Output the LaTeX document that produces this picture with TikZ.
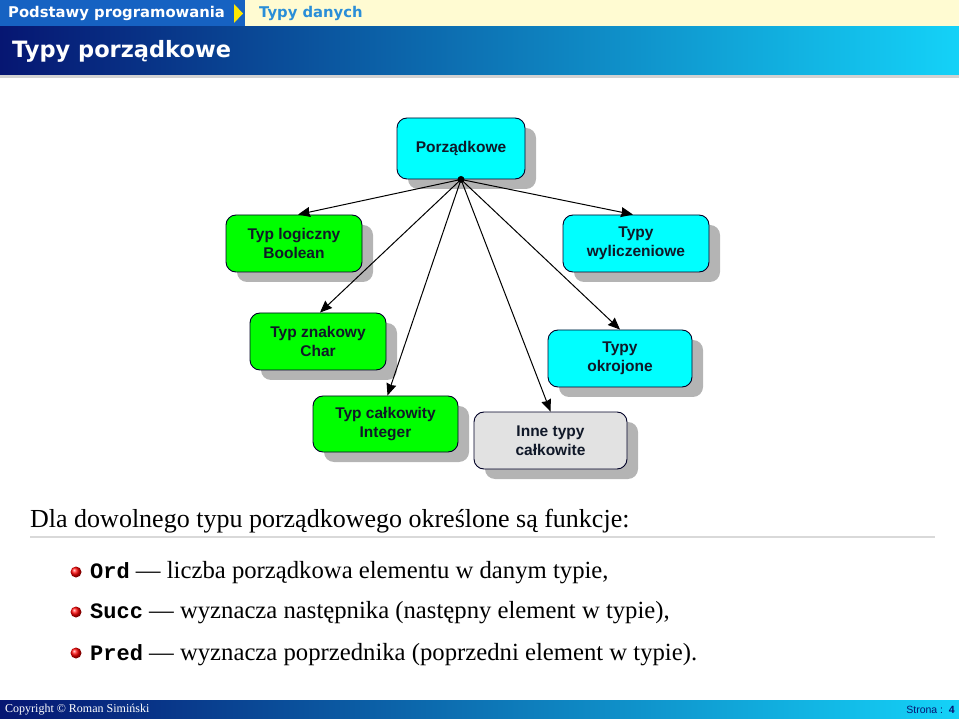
\documentclass[tikz,border=0pt]{standalone}
\usepackage{fontspec}
\setmainfont{Liberation Serif}
\setmonofont{Liberation Mono}
\newfontfamily\hdrf{DejaVu Sans}
\newfontfamily\boxf{Liberation Sans}
\usetikzlibrary{shadows,arrows.meta}
\definecolor{navy}{HTML}{061672}
\definecolor{midblue}{HTML}{1A55B8}
\definecolor{lcyan}{HTML}{14D2F8}
\definecolor{topblue}{HTML}{1662C2}
\definecolor{topyel}{HTML}{FFFBD2}
\definecolor{typblue}{HTML}{2A8ED8}
\definecolor{boxcyan}{HTML}{00FFFF}
\definecolor{boxgreen}{HTML}{00FF00}
\definecolor{boxgray}{HTML}{E2E2E2}
\definecolor{shadowgray}{HTML}{B4B4B4}
\definecolor{boxtext}{HTML}{101828}
\tikzset{
  tbox/.style={draw=black!85!blue, line width=0.9pt, rounded corners=10pt, align=center,
    inner sep=2pt, text=boxtext, font=\boxf\bfseries\fontsize{15.5}{19}\selectfont,
    drop shadow={shadow xshift=11pt, shadow yshift=-10pt, fill=shadowgray, opacity=1}},
  arr/.style={-{Stealth[length=12pt,width=10pt,inset=1pt]}, line width=1pt},
  bul/.style={circle, inner sep=0pt, minimum size=11pt, ball color=red},
  itm/.style={anchor=west, inner sep=0pt, font=\fontsize{24.7}{29}\selectfont}
}
\newcommand{\fn}[1]{{\ttfamily\bfseries\fontsize{22}{26}\selectfont #1}}
\begin{document}
\begin{tikzpicture}[x=1pt,y=-1pt]
\useasboundingbox (0,0) rectangle (959,719);
% header
\fill[topblue] (0,0) rectangle (245,27);
\fill[topyel] (245,0) rectangle (959,27);
\fill[yellow!90!orange] (234,4) -- (243,13.5) -- (234,23) -- cycle;
\node[anchor=west, text=white, font=\hdrf\bfseries\fontsize{14.8}{16}\selectfont, inner sep=0pt] (hdr) at (8,13.5) {Podstawy programowania};
\node[anchor=west, text=typblue, font=\hdrf\bfseries\fontsize{14.8}{16}\selectfont, inner sep=0pt] (sub) at (259,13.5) {Typy danych};
% title bar
\fill[gray!35] (0,75) rectangle (959,78);
\shade[left color=navy, middle color=midblue, right color=lcyan] (0,27) rectangle (959,75);
\node[anchor=west, text=white, font=\hdrf\bfseries\fontsize{22.5}{26}\selectfont, inner sep=0pt] (title) at (12,51) {Typy porządkowe};
% boxes
\node[tbox, fill=boxcyan, minimum width=128pt, minimum height=61pt] (P) at (461,148.5) {Porządkowe};
\node[tbox, fill=boxgreen, minimum width=136pt, minimum height=57pt] (B) at (294,243.5) {Typ logiczny\\Boolean};
\node[tbox, fill=boxcyan, minimum width=146pt, minimum height=57pt] (W) at (636,243.5) {Typy\\wyliczeniowe};
\node[tbox, fill=boxgreen, minimum width=136pt, minimum height=57pt] (C) at (318,341.5) {Typ znakowy\\Char};
\node[tbox, fill=boxcyan, minimum width=144pt, minimum height=57pt] (O) at (620,358.5) {Typy\\okrojone};
\node[tbox, fill=boxgreen, minimum width=145pt, minimum height=56pt] (I) at (385.5,424) {Typ całkowity\\Integer};
\node[tbox, fill=boxgray, minimum width=153pt, minimum height=57pt] (N) at (550.5,440.5) {Inne typy\\całkowite};
% connectors
\coordinate (hub) at (P.south);
\draw[arr] (hub) -- ([xshift=4pt]B.north);
\draw[arr] (hub) -- ([xshift=-3pt]W.north);
\draw[arr] (hub) -- ([xshift=2pt]C.north);
\draw[arr] (hub) -- (O.north);
\draw[arr] (hub) -- ([xshift=2pt]I.north);
\draw[arr] (hub) -- (N.north);
\fill (hub) circle (3.5pt);
% text
\node[anchor=west, inner sep=0pt, font=\fontsize{26}{30}\selectfont] (dla) at (30,521) {Dla dowolnego typu porządkowego określone są funkcje:};
\draw[gray!30, line width=1.5pt] (30,537) -- (935,537);
\node[bul] (b1) at (76,572) {};
\node[bul] (b2) at (76,612) {};
\node[bul] (b3) at (76,653) {};
\node[itm] (t1) at (90,573) {\fn{Ord} — liczba porządkowa elementu w danym typie,};
\node[itm] (t2) at (90,613) {\fn{Succ} — wyznacza następnika (następny element w typie),};
\node[itm] (t3) at (90,655) {\fn{Pred} — wyznacza poprzednika (poprzedni element w typie).};
% footer
\shade[left color=navy, middle color=midblue, right color=lcyan] (0,700) rectangle (959,719);
\node[anchor=west, text=white, inner sep=0pt, font=\fontsize{12}{13}\selectfont] (copy) at (5,709.5) {Copyright © Roman Simiński};
\node[anchor=east, text=navy, inner sep=0pt, font=\boxf\fontsize{10.5}{12}\selectfont] (page) at (955,709.5) {Strona :\ \ \textbf{4}};
\end{tikzpicture}
\end{document}
